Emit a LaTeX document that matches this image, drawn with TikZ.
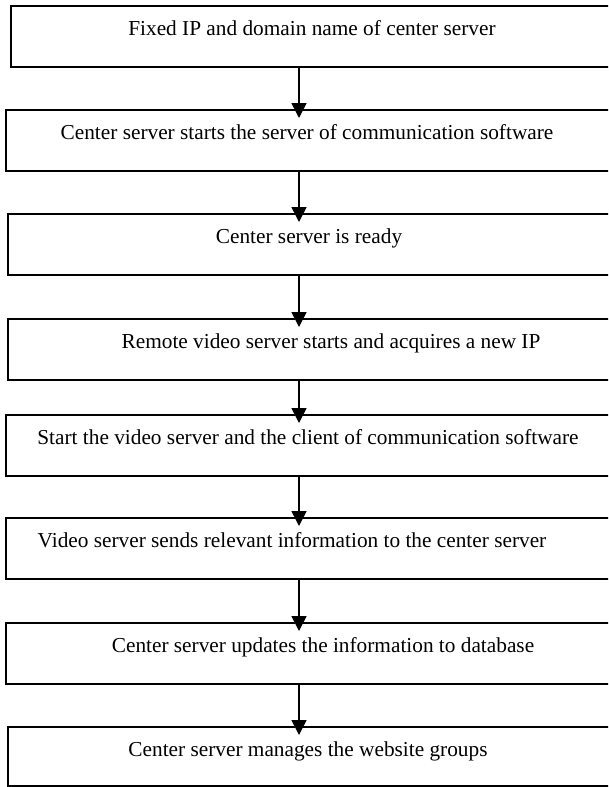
\documentclass[tikz,border=0pt]{standalone}
\usepackage{fontspec}
\setmainfont{Liberation Serif}
\usetikzlibrary{arrows.meta}
\begin{document}
\begin{tikzpicture}[x=1pt,y=-1pt,
  stepbox/.style={draw, line width=1.8pt, rectangle, minimum height=61pt,
    anchor=north west, inner sep=0pt},
  lbl/.style={anchor=base, inner sep=0pt, font=\fontsize{21.3}{25}\selectfont},
  flow/.style={line width=1.5pt, -{Triangle[width=15pt,length=15pt]}, shorten >=-9pt}]
\useasboundingbox (0,0) rectangle (608,787);
\clip (0,0) rectangle (608,787);

% process boxes (they run off the right edge of the page)
\node[stepbox, minimum width=610pt] (b1) at (10,5)   {};
\node[stepbox, minimum width=615pt] (b2) at (5,109)  {};
\node[stepbox, minimum width=613pt] (b3) at (7,213)  {};
\node[stepbox, minimum width=613pt] (b4) at (7,318)  {};
\node[stepbox, minimum width=615pt] (b5) at (5,414)  {};
\node[stepbox, minimum width=615pt] (b6) at (5,517)  {};
\node[stepbox, minimum width=615pt] (b7) at (5,622)  {};
\node[stepbox, minimum width=613pt, minimum height=59pt] (b8) at (7,726)  {};

% box labels
\node[lbl] (t1) at (312,35)  {Fixed IP and domain name of center server};
\node[lbl] (t2) at (307,139) {Center server starts the server of communication software};
\node[lbl] (t3) at (309,243) {Center server is ready};
\node[lbl] (t4) at (331,348) {Remote video server starts and acquires a new IP};
\node[lbl] (t5) at (308,444) {Start the video server and the client of communication software};
\node[lbl] (t6) at (292,547) {Video server sends relevant information to the center server};
\node[lbl] (t7) at (323,652) {Center server updates the information to database};
\node[lbl] (t8) at (308,756) {Center server manages the website groups};

% flow arrows
\coordinate (ax) at (299,0);
\draw[flow] (b1.south -| ax) -- (b2.north -| ax);
\draw[flow] (b2.south -| ax) -- (b3.north -| ax);
\draw[flow] (b3.south -| ax) -- (b4.north -| ax);
\draw[flow] (b4.south -| ax) -- (b5.north -| ax);
\draw[flow] (b5.south -| ax) -- (b6.north -| ax);
\draw[flow] (b6.south -| ax) -- (b7.north -| ax);
\draw[flow] (b7.south -| ax) -- (b8.north -| ax);
\end{tikzpicture}
\end{document}
